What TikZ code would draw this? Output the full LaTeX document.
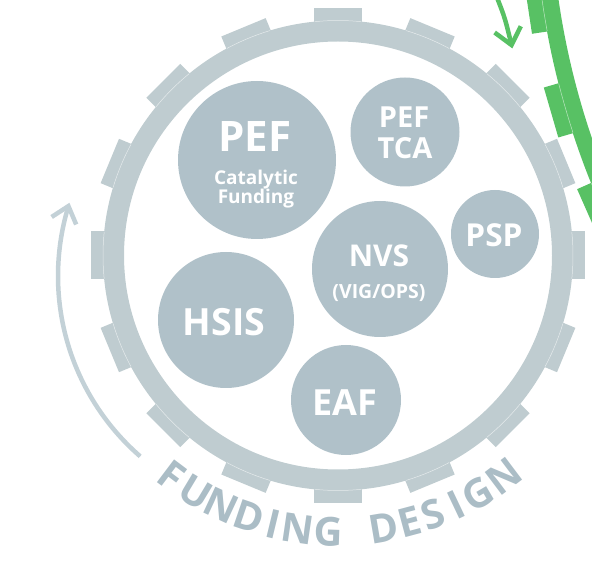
\documentclass[tikz,border=0pt]{standalone}
\usepackage{fontspec}
\setmainfont{Open Sans}
\usetikzlibrary{calc}
\definecolor{ringgray}{HTML}{BFCCD0}
\definecolor{circgray}{HTML}{B0C1C9}
\definecolor{txtgray}{HTML}{ABBDC6}
\definecolor{arrgray}{HTML}{C3D1D7}
\definecolor{gearg}{HTML}{58C164}
\begin{document}
\begin{tikzpicture}[x=1pt,y=-1pt,
  bubble/.style={circle, fill=circgray, draw=none, inner sep=0pt},
  btext/.style={text=white, inner sep=0pt, anchor=base, font=\bfseries},
  arc letter/.style={text=txtgray, inner sep=0pt, anchor=center, font=\bfseries\fontsize{40}{40}\selectfont},
  seam/.style={white, line width=0.5pt, opacity=0.6},
  arrowline/.style={line width=4.5pt, line join=miter}]
\useasboundingbox (0,0) rectangle (592,561);
\clip (0,0) rectangle (592,561);

% ---------- green gear (top right, partly off the picture) ----------
\coordinate (gg) at (1325.5,-112.5);
\fill[gearg, even odd rule] (gg) circle[radius=791.5] (gg) circle[radius=775];
\foreach \p in {1,8.6,16.2,23.8,31.4} {
  \pgfmathsetmacro\a{180-\p}
  \fill[gearg] ($(gg)+(\a:785)+(\a+90:26)$) -- ($(gg)+(\a:806.5)+(\a+90:26)$)
     -- ($(gg)+(\a:806.5)+(\a-90:26)$) -- ($(gg)+(\a:785)+(\a-90:26)$) -- cycle;
  \draw[seam] plot[domain=\a-1.85:\a+1.85, samples=6] ({1325.5+791.5*cos(\x)},{-112.5+791.5*sin(\x)});
}

% green arrow
\coordinate (gas) at (496,-5);
\coordinate (gat) at (511.5,45);
\draw[gearg, arrowline] (gas) .. controls (505,18) .. (gat);
\draw[gearg, arrowline] ($(gat)+(216.5:21)$) -- (gat) -- ($(gat)+(296.5:21)$);

% ---------- gray gear ----------
\coordinate (gc) at (338,255.5);
\foreach \a in {0,22.5,...,337.5} {
  \fill[ringgray] ($(gc)+(\a:228)+(\a+90:24)$) -- ($(gc)+(\a:247)+(\a+90:24)$)
     -- ($(gc)+(\a:247)+(\a-90:24)$) -- ($(gc)+(\a:228)+(\a-90:24)$) -- cycle;
}
\fill[ringgray, even odd rule] (gc) circle[radius=235] (gc) circle[radius=214];
\foreach \a in {0,22.5,...,337.5} {
  \draw[seam] plot[domain=\a-5.7:\a+5.7, samples=8] ({338+235*cos(\x)},{255.5+235*sin(\x)});
}

% gray arrow
\coordinate (gtip) at (68.4,206.1);
\draw[arrgray, line width=4.5pt] plot[domain=131:197, samples=60] ({297+239*cos(\x)},{276+239*sin(\x)});
\draw[arrgray, arrowline] ($(gtip)+(147:20)$) -- (gtip) -- ($(gtip)+(67:20)$);

% ---------- bubbles ----------
\node[bubble, minimum size=158pt] (pef)  at (257,160) {};
\node[bubble, minimum size=109pt] (tca)  at (405,132) {};
\node[bubble, minimum size=88pt]  (psp)  at (495,234) {};
\node[bubble, minimum size=136pt] (nvs)  at (380,269) {};
\node[bubble, minimum size=136pt] (hsis) at (226,320) {};
\node[bubble, minimum size=110pt] (eaf)  at (346,400) {};

\node[btext, font=\bfseries\fontsize{42}{42}\selectfont] (t-pef) at (255,151.7) {PEF};
\node[btext, font=\bfseries\fontsize{19}{19}\selectfont] (t-cat) at (256,184.5) {Catalytic};
\node[btext, font=\bfseries\fontsize{19}{19}\selectfont] (t-fun) at (256,203.5) {Funding};
\node[btext, font=\bfseries\fontsize{29}{29}\selectfont] (t-tca1) at (404,127.4) {PEF};
\node[btext, font=\bfseries\fontsize{29}{29}\selectfont] (t-tca2) at (405,159) {TCA};
\node[btext, font=\bfseries\fontsize{31.6}{31.6}\selectfont] (t-psp) at (494,246.6) {PSP};
\node[btext, font=\bfseries\fontsize{30}{30}\selectfont] (t-nvs) at (379,266.7) {NVS};
\node[btext, font=\bfseries\fontsize{19.5}{19.5}\selectfont] (t-vig) at (379,299) {(VIG/OPS)};
\node[btext, font=\bfseries\fontsize{37.5}{37.5}\selectfont] (t-hsis) at (224,335.5) {HSIS};
\node[btext, font=\bfseries\fontsize{36}{36}\selectfont] (t-eaf) at (345,415.5) {EAF};

% ---------- curved title ----------
\foreach \L/\a [count=\i] in {F/127.0, U/121.0, N/115.0, D/108.8, I/103.6, N/98.4, G/92.0,
                   D/80.4, E/75.0, S/69.8, I/64.6, G/59.6, N/53.0} {
  \node[arc letter, rotate=90-\a] (fd\i) at ($(gc)+(\a:276)$) {\L};
}
\end{tikzpicture}
\end{document}
